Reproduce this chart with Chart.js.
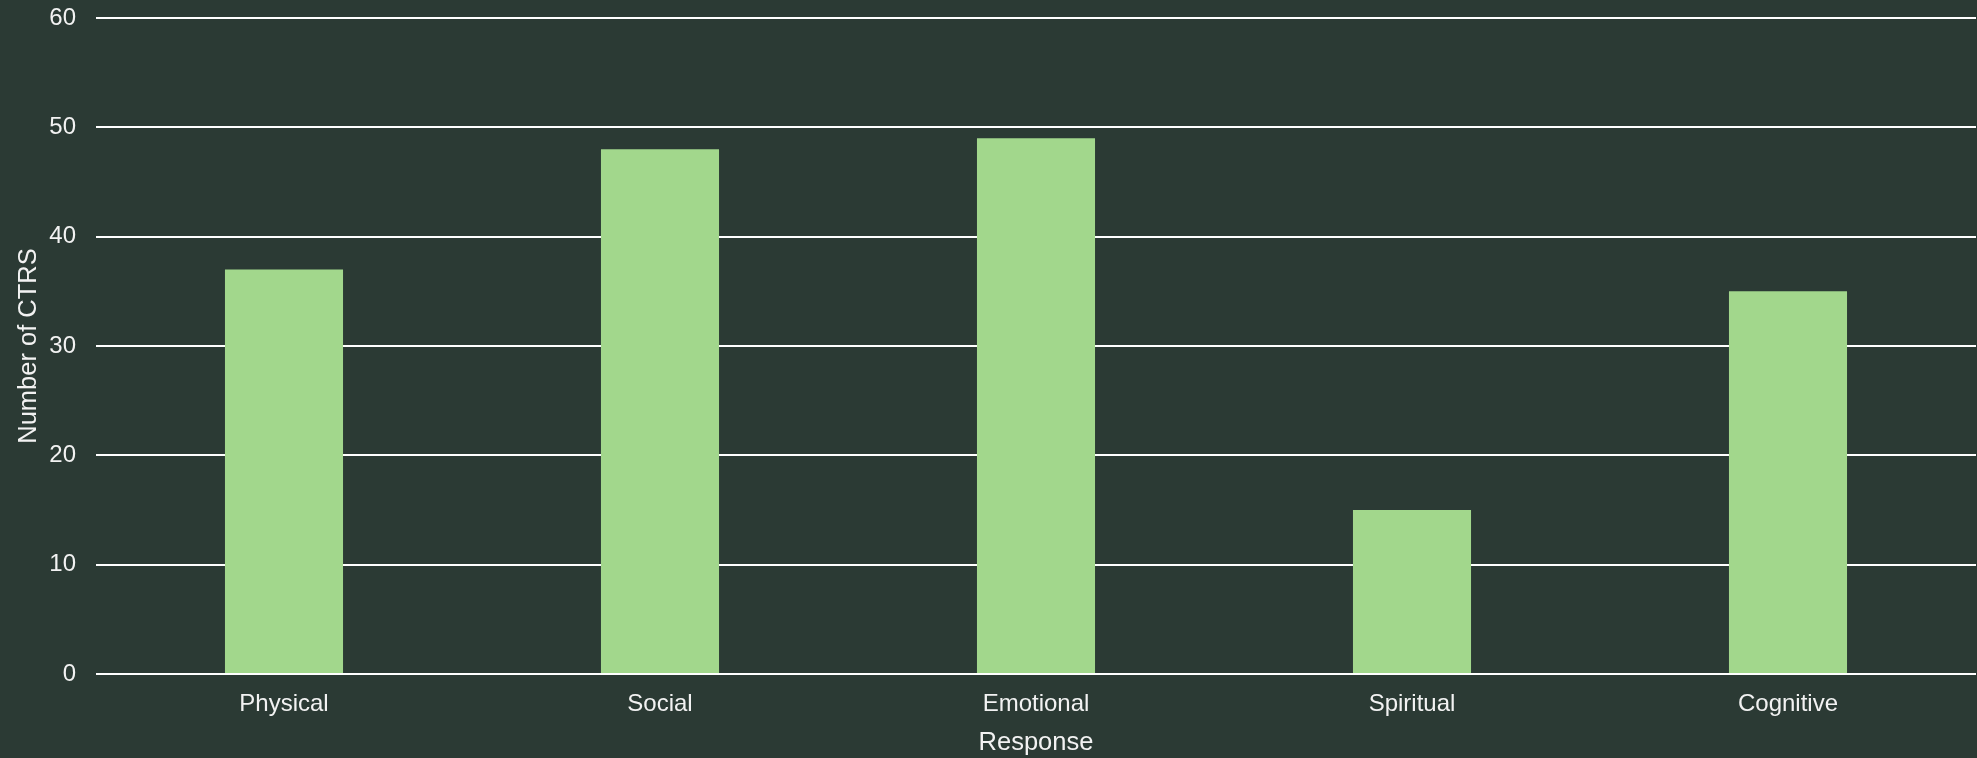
<!DOCTYPE html>
<html>
<head>
<meta charset="utf-8">
<script src="https://cdn.jsdelivr.net/npm/chart.js@4"></script>
<style>
  html, body { margin: 0; padding: 0; background: #2b3a34; }
  #wrap { width: 1977px; height: 758px; position: relative; }
</style>
</head>
<body>
<div id="wrap"><canvas id="bar-chart"></canvas></div>
<script>
const categories = ["Physical", "Social", "Emotional", "Spiritual", "Cognitive"];
const counts = [37, 48, 49, 15, 35];
const yTicks = [0, 10, 20, 30, 40, 50, 60];

const textColor = "#f2f2f2";
const fontFamily = "'Liberation Sans', Arial, sans-serif";

const chartElem = document.getElementById('bar-chart');

var chart = new Chart(chartElem, {
	type: 'bar',
	data: {
		labels: categories,
		datasets: [{
			label: 'Number of CTRS',
			data: counts,
			backgroundColor: "#a2d78c",
			borderWidth: 0,
			categoryPercentage: 1.0,
			barPercentage: 0.314
		}]
	},
	options: {
		responsive: true,
		maintainAspectRatio: false,
		animation: false,
		layout: {
			padding: { top: 18, right: 1, left: 0, bottom: 0 }
		},
		plugins: {
			legend: { display: false },
			tooltip: { enabled: false }
		},
		scales: {
			x: {
				grid: { display: false, drawTicks: false },
				border: { display: false },
				ticks: {
					color: textColor,
					font: { family: fontFamily, size: 24 },
					padding: 16
				},
				title: {
					display: true,
					text: 'Response',
					color: textColor,
					font: { family: fontFamily, size: 25.5 },
					padding: { top: 6, bottom: 0 }
				},
				afterFit: function (scale) { scale.height = 84; }
			},
			y: {
				min: 0,
				max: 60,
				afterBuildTicks: function (scale) {
					scale.ticks = yTicks.map(v => ({ value: v }));
				},
				grid: {
					color: "#ffffff",
					lineWidth: 2,
					drawTicks: false
				},
				border: { display: false },
				ticks: {
					color: textColor,
					font: { family: fontFamily, size: 24 },
					padding: 20
				},
				title: {
					display: true,
					text: 'Number of CTRS',
					color: textColor,
					font: { family: fontFamily, size: 25.5 },
					padding: { top: 14, bottom: 4 }
				},
				afterFit: function (scale) {
					scale.width = 96;
					scale.paddingTop = 0;
					scale.paddingBottom = 0;
				}
			}
		}
	}
});
</script>
</body>
</html>
